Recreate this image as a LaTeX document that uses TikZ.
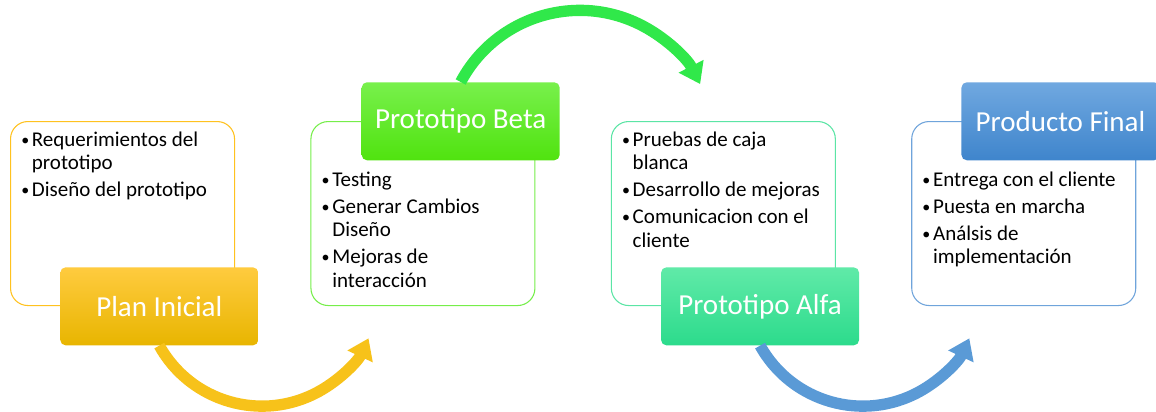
\documentclass[tikz,border=0pt]{standalone}
\usepackage{fontspec}
\setmainfont{Carlito}
\usepackage{tikz}
\usetikzlibrary{arrows.meta, positioning, calc}

\definecolor{planline}{HTML}{FFC21F}
\definecolor{plantop}{HTML}{FFCB3F}
\definecolor{planbot}{HTML}{E8B500}
\definecolor{betaline}{HTML}{76EE4A}
\definecolor{betatop}{HTML}{78F04C}
\definecolor{betabot}{HTML}{50E30F}
\definecolor{alfaline}{HTML}{5BE5A5}
\definecolor{alfatop}{HTML}{60EAA8}
\definecolor{alfabot}{HTML}{2CDB8C}
\definecolor{finalline}{HTML}{6FA4DB}
\definecolor{finaltop}{HTML}{70A8E0}
\definecolor{finalbot}{HTML}{3F85CC}
\definecolor{planarrow}{HTML}{F7C21A}
\definecolor{betaarrow}{HTML}{30E84A}
\definecolor{alfaarrow}{HTML}{5A9AD6}

\hyphenpenalty=10000
\exhyphenpenalty=10000
\newcommand{\bitem}[1]{\par\hangindent=8pt\hangafter=1\noindent\strut\makebox[8pt][l]{\raisebox{0.5pt}{\fontsize{12pt}{12pt}\selectfont\textbullet}}#1\par}

\begin{document}
\begin{tikzpicture}[
        x=0.75pt, y=-0.75pt,
        node distance=56.5pt,
        lbox/.style={rectangle, draw=#1, line width=0.8pt, fill=white, rounded corners=13pt, minimum width=168pt, minimum height=138pt, inner sep=0pt},
        head/.style 2 args={rectangle, top color=#1, bottom color=#2, rounded corners=4pt, minimum width=148.5pt, minimum height=58.5pt, anchor=north west, text=white, font=\fontsize{21.75pt}{26pt}\selectfont},
        lst/.style={anchor=north west, text width=152pt, align=flush left, inner sep=0pt, font=\fontsize{15.75pt}{17.6pt}\selectfont\setlength{\parskip}{2.6pt}},
        flow/.style={line width=8.5pt, draw=#1, -{Triangle[length=15pt, width=20pt]}}
    ]
    \useasboundingbox (0,0) rectangle (1156,411);

    % Boxes
    \node[lbox=planline, anchor=north west] (planbox) at (10,121) {};
    \node[lbox=betaline, right=of planbox] (betabox) {};
    \node[lbox=alfaline, right=of betabox] (alfabox) {};
    \node[lbox=finalline, right=of alfabox] (finalbox) {};

    % Lists
    \node[lst] (plantxt) at ($(planbox.north west)+(11,-2)$) {\bitem{Requerimientos del prototipo}\bitem{Diseño del prototipo}};
    \node[lst] (betatxt) at ($(betabox.north west)+(11,38)$) {\bitem{Testing}\bitem{Generar Cambios Diseño}\bitem{Mejoras de interacción}};
    \node[lst] (alfatxt) at ($(alfabox.north west)+(11,-2)$) {\bitem{Pruebas de caja blanca}\bitem{Desarrollo de mejoras}\bitem{Comunicacion con el cliente}};
    \node[lst] (finaltxt) at ($(finalbox.north west)+(11,38)$) {\bitem{Entrega con el cliente}\bitem{Puesta en marcha}\bitem{Análsis de implementación}};

    % Headers
    \node[head={plantop}{planbot}] (plan) at ($(planbox.south west)+(50,-39)$) {Plan Inicial};
    \node[head={betatop}{betabot}] (beta) at ($(betabox.north west)+(51,-39)$) {Prototipo Beta};
    \node[head={alfatop}{alfabot}] (alfa) at ($(alfabox.south west)+(50,-39)$) {Prototipo Alfa};
    \node[head={finaltop}{finalbot}] (final) at ($(finalbox.north west)+(50,-39)$) {Producto Final};

    % Arrows
    \draw[flow=planarrow] (plan.south) arc[start angle=151, end angle=25, radius=117.5];
    \draw[flow=betaarrow] (beta.north) arc[start angle=-152, end angle=-27, radius=135];
    \draw[flow=alfaarrow] (alfa.south) arc[start angle=151, end angle=25, radius=117.5];

\end{tikzpicture}
\end{document}
